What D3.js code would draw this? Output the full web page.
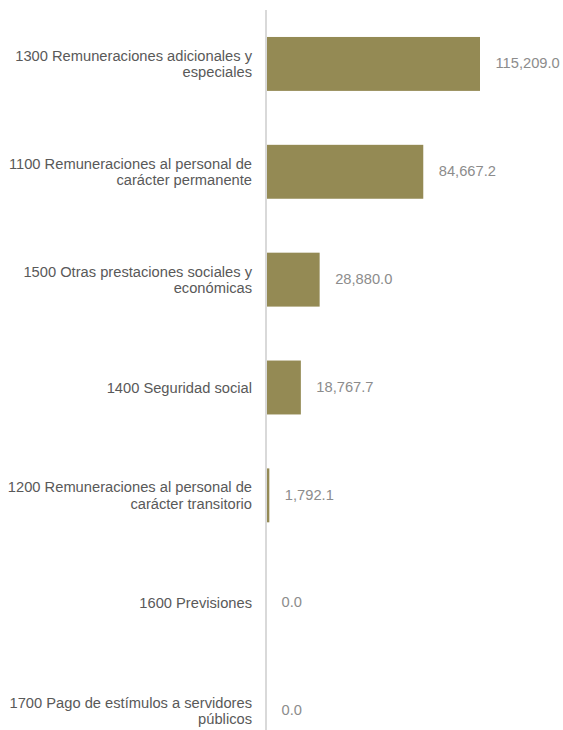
<!DOCTYPE html>
<html><head><meta charset="utf-8">
<script src="https://cdn.jsdelivr.net/npm/d3@7"></script>
<style>html,body{margin:0;padding:0;background:#fff;overflow:hidden}</style>
</head><body>
<script>
const categories = [
  "1300 Remuneraciones adicionales y especiales",
  "1100 Remuneraciones al personal de carácter permanente",
  "1500 Otras prestaciones sociales y económicas",
  "1400 Seguridad social",
  "1200 Remuneraciones al personal de carácter transitorio",
  "1600 Previsiones",
  "1700 Pago de estímulos a servidores públicos"
];
const values = [115209.0, 84667.2, 28880.0, 18767.7, 1792.1, 0.0, 0.0];

const W = 563, H = 730;
const svg = d3.select("body").append("svg").attr("width", W).attr("height", H)
  .style("font-family", "'Liberation Sans', Arial, sans-serif");

const y = d3.scaleBand().domain(categories).range([10, 765])
  .paddingInner(0.5).paddingOuter(0.25);
const x = d3.scaleLinear().domain([0, d3.max(values)]).range([266, 480]);

const data = categories.map((c, i) => ({c, v: values[i]}));

svg.selectAll("rect.bar").data(data).enter().append("rect")
  .attr("class", "bar")
  .attr("x", x(0))
  .attr("y", d => y(d.c))
  .attr("width", d => x(d.v) - x(0))
  .attr("height", y.bandwidth())
  .attr("fill", "#948A54");

svg.append("line").attr("x1", 266).attr("x2", 266).attr("y1", 10).attr("y2", 765)
  .attr("stroke", "#d9d9d9").attr("stroke-width", 2);

const fs = 14.7;
const fmt = d3.format(",.1f");
svg.selectAll("text.val").data(data).enter().append("text")
  .attr("class", "val")
  .attr("x", d => x(d.v) + 15.5)
  .attr("y", d => y(d.c) + y.bandwidth() / 2 - 1)
  .attr("dy", "0.35em")
  .attr("font-size", fs).attr("fill", "#8c8c8c")
  .text(d => fmt(d.v));

// category labels with wrapping
const maxW = 252, lh = 16.5;
data.forEach(d => {
  const t = svg.append("text").attr("text-anchor", "end").attr("x", 252)
    .attr("font-size", fs).attr("fill", "#595959");
  const words = d.c.split(" ");
  const lines = [];
  let cur = [];
  const probe = t.append("tspan");
  words.forEach(w => {
    const test = cur.concat([w]).join(" ");
    probe.text(test);
    if (probe.node().getComputedTextLength() > maxW && cur.length) {
      lines.push(cur.join(" "));
      cur = [w];
    } else cur.push(w);
  });
  lines.push(cur.join(" "));
  probe.remove();
  const cy = y(d.c) + y.bandwidth() / 2;
  const start = cy - (lines.length - 1) * lh / 2;
  lines.forEach((ln, i) => {
    t.append("tspan").attr("x", 252).attr("y", start + i * lh).attr("dy", "0.35em").text(ln);
  });
});
</script>
</body></html>
